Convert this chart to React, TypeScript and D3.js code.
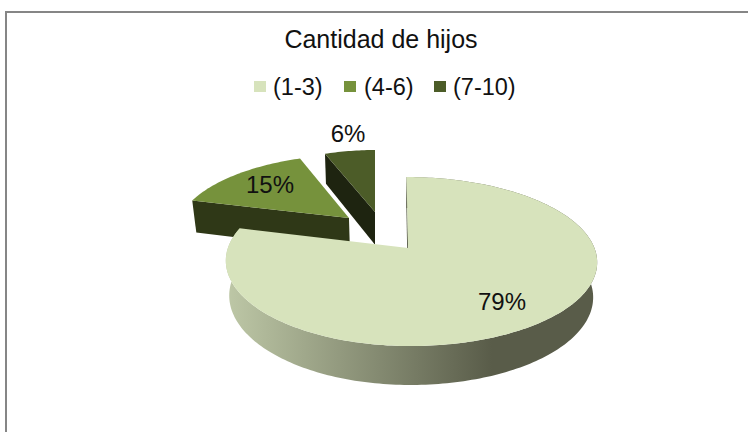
import * as d3 from 'd3';

const categories = ['(1-3)', '(4-6)', '(7-10)'];
const shares = [79, 15, 6];
const sliceColors = ['#d7e3bc', '#76923c', '#4c5c28'];
const edgeColors = ['#5a5e4a', '#2f3817', '#1e2410'];

// how far each slice is pulled out, in pie radii (x, depth)
const explodeX = [0.0644, -0.28, 0];
const explodeZ = [0.079, -0.308, -0.391];
// screen shift and width factor per slice, the small one stands upright in the picture
const sliceShift = [0, 0, -21.5];
const sliceWidth = [1, 1, 0.923];
const labelX = [502, 270, 348];
const labelY = [310, 193, 142];
const legendSwatchX = [254, 344, 434];
const legendTextX = [273, 364, 453];

const cx = 396.5;
const cy = 241.6;
const radiusLeft = 178;
const radiusRight = 184;
const radiusY = 80.3;
const persp = 0.158;
const depth = 34;
const bottomScale = 0.98;

// tilted pie seen in perspective, u and v are relative to the slice apex
function project(i: number, u: number, v: number, low: boolean): [number, number] {
  const bx = (u < 0 ? radiusLeft : radiusRight) * sliceWidth[i];
  const z = explodeZ[i] + v;
  const den = 1 - persp * z;
  const s = low ? bottomScale : 1;
  return [
    cx + sliceShift[i] + ((explodeX[i] * radiusLeft + u * bx) / den) * s,
    cy + (radiusY * z * s + (low ? depth : 0)) / den,
  ];
}

const pieAngles = d3.pie<number>().sort(null)(shares);
const line = d3.line();

function arcPoints(i: number, a0: number, a1: number, low: boolean) {
  const n = Math.max(2, Math.ceil((a1 - a0) / 0.02));
  return d3.range(n + 1).map((k) => {
    const a = a0 + ((a1 - a0) * k) / n;
    return project(i, Math.sin(a), -Math.cos(a), low);
  });
}

function App() {
  // far slices go first so that the big slice sits on top
  const order = [2, 1, 0];
  return (
    <svg
      width={748}
      height={432}
      style={{ position: 'absolute', left: 0, top: 0, fontFamily: '"Liberation Sans", Arial, sans-serif' }}
    >
      <defs>
        <linearGradient id="wallFade" gradientUnits="userSpaceOnUse" x1={228} x2={492} y1={0} y2={0}>
          <stop offset="0" stopColor="#bdc7a6" />
          <stop offset="1" stopColor="#595c49" />
        </linearGradient>
      </defs>
      <rect x={0} y={0} width={748} height={432} fill="#fff" />
      <path d="M6 432V12H748" fill="none" stroke="#868686" strokeWidth={2} />

      <text x={381} y={48} textAnchor="middle" fontSize={25} fill="#111">
        Cantidad de hijos
      </text>

      {categories.map((c, i) => (
        <g key={c}>
          <rect x={legendSwatchX[i]} y={81} width={12} height={11} fill={sliceColors[i]} />
          <text x={legendTextX[i]} y={95} fontSize={23.5} fill="#111">
            {c}
          </text>
        </g>
      ))}

      {order.map((i) => {
        const { startAngle, endAngle } = pieAngles[i];
        const topArc = arcPoints(i, startAngle, endAngle, false);
        const lowArc = arcPoints(i, startAngle, endAngle, true);
        const apexTop = project(i, 0, 0, false);
        const apexLow = project(i, 0, 0, true);
        const wall = line([...topArc, ...lowArc.slice().reverse()]) + 'Z';
        const startWall = line([apexTop, topArc[0], lowArc[0], apexLow]) + 'Z';
        const face = line([apexTop, ...topArc]) + 'Z';
        return (
          <g key={categories[i]}>
            {/* the outer rim of the far slices faces away, only the big one shows it */}
            {i === 0 && <path d={wall} fill="url(#wallFade)" />}
            <path d={startWall} fill={edgeColors[i]} />
            <path d={face} fill={sliceColors[i]} />
          </g>
        );
      })}

      {shares.map((d, i) => (
        <text key={i} x={labelX[i]} y={labelY[i]} textAnchor="middle" fontSize={24} fill="#111">
          {d}%
        </text>
      ))}
    </svg>
  );
}

export default App;
